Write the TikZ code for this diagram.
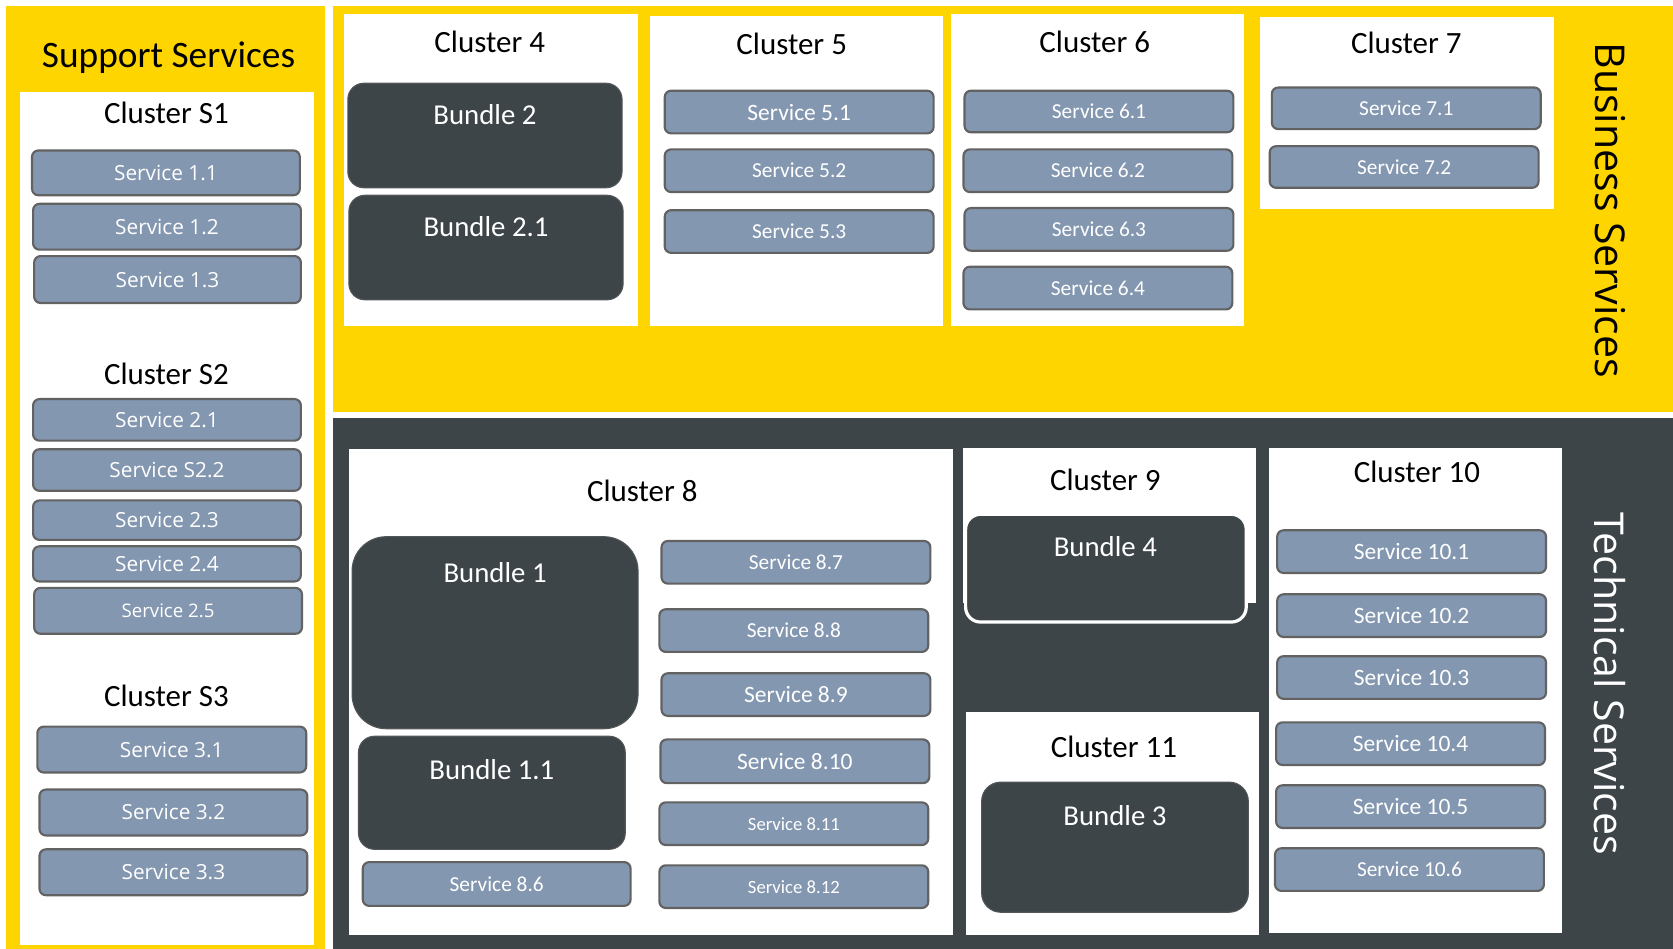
\documentclass[tikz,border=0pt]{standalone}
\usepackage{fontspec}
\setmainfont{Carlito}
\newfontfamily\widefont{Open Sans}
\definecolor{panelyellow}{RGB}{255,213,0}
\definecolor{paneldark}{RGB}{61,69,73}
\definecolor{bundlefill}{RGB}{61,69,73}
\definecolor{svcfill}{RGB}{132,151,176}
\definecolor{svcedge}{RGB}{98,98,98}
\tikzset{
  svc/.style={draw=svcedge, fill=svcfill, line width=2pt, rounded corners=6pt,
    text=white, inner sep=0pt},
  bundlebox/.style={draw=svcedge!60!bundlefill, fill=bundlefill, line width=1pt, inner sep=0pt},
  bundletext/.style={text=white, font=\fontsize{27}{30}\selectfont, inner sep=0pt},
  clustertitle/.style={text=black, font=\fontsize{29}{32}\selectfont, inner sep=0pt},
  whitepanel/.style={fill=white, draw=none},
}
% service box: name, x1, y1, x2, y2, font, text
\newcommand\svcbox[7]{%
  \node[svc, font=#6, minimum width={(#4-#2)*1pt}, minimum height={(#5-#3)*1pt}]
    (#1) at ({(#2+#4)/2},{(#3+#5)/2}) {#7};}
% bundle box: name, x1, y1, x2, y2, corner radius, label y, text
\newcommand\bundle[8]{%
  \node[bundlebox, rounded corners=#6, minimum width={(#4-#2)*1pt}, minimum height={(#5-#3)*1pt}]
    (#1) at ({(#2+#4)/2},{(#3+#5)/2}) {};
  \node[bundletext] (#1-label) at ({(#2+#4)/2},#7) {#8};}
\newcommand\fa{\fontsize{22}{24}\selectfont}
\newcommand\fb{\fontsize{20}{22}\selectfont}
\newcommand\fc{\fontsize{17.5}{19}\selectfont}
\newcommand\fw{\widefont\fontsize{19.5}{22}\selectfont}
\newcommand\fwb{\widefont\fontsize{17.5}{20}\selectfont}
\begin{document}
\begin{tikzpicture}[x=1pt,y=-1pt]
\useasboundingbox[fill=white] (0,0) rectangle (1568,889);

% ---- three coloured areas
\fill[panelyellow] (6,6) rectangle (305,889);
\fill[panelyellow] (312,6) rectangle (1568,386);
\fill[paneldark] (312,392) rectangle (1568,889);

% ---- support services
\node[font=\fontsize{35}{37}\selectfont, anchor=base, inner sep=0pt] (support) at (158,63) {Support Services};
\fill[whitepanel] (19,86) rectangle (294,886);

\node[clustertitle] (cs1) at (156,106) {Cluster S1};
\svcbox{s11}{30}{141}{281}{183}{\fw}{Service 1.1}
\svcbox{s12}{31}{191}{282}{234}{\fw}{Service 1.2}
\svcbox{s13}{32}{240}{282}{284}{\fw}{Service 1.3}

\node[clustertitle] (cs2) at (156,350) {Cluster S2};
\svcbox{s21}{31}{374}{282}{413}{\fw}{Service 2.1}
\svcbox{s22}{31}{421}{282}{460}{\fw}{Service S2.2}
\svcbox{s23}{31}{469}{282}{506}{\fw}{Service 2.3}
\svcbox{s24}{31}{512}{282}{545}{\fw}{Service 2.4}
\svcbox{s25}{32}{551}{283}{594}{\fwb}{Service 2.5}

\node[clustertitle] (cs3) at (156,652) {Cluster S3};
\svcbox{s31}{35}{681}{287}{724}{\fw}{Service 3.1}
\svcbox{s32}{37}{740}{288}{783}{\fw}{Service 3.2}
\svcbox{s33}{37}{796}{288}{839}{\fw}{Service 3.3}

% ---- business services
\node[rotate=-90, font=\widefont\fontsize{38.5}{40}\selectfont, inner sep=0pt] (business) at (1509,197) {Business Services};

\fill[whitepanel] (322,13) rectangle (598,306);
\node[clustertitle] (c4) at (459,39) {Cluster 4};
\bundle{b2}{326}{78}{583}{176}{15pt}{107}{Bundle 2}
\bundle{b21}{327}{183}{584}{281}{15pt}{212}{Bundle 2.1}

\fill[whitepanel] (609,15) rectangle (884,306);
\node[clustertitle] (c5) at (742,41) {Cluster 5};
\svcbox{s51}{623}{85}{875}{125}{\fa}{Service 5.1}
\svcbox{s52}{623}{140}{875}{180}{\fb}{Service 5.2}
\svcbox{s53}{623}{197}{875}{237}{\fb}{Service 5.3}

\fill[whitepanel] (891,13) rectangle (1166,306);
\node[clustertitle] (c6) at (1026,39) {Cluster 6};
\svcbox{s61}{904}{85}{1156}{124}{\fb}{Service 6.1}
\svcbox{s62}{903}{140}{1155}{180}{\fb}{Service 6.2}
\svcbox{s63}{904}{195}{1156}{235}{\fb}{Service 6.3}
\svcbox{s64}{903}{250}{1155}{290}{\fb}{Service 6.4}

\fill[whitepanel] (1181,16) rectangle (1456,196);
\node[clustertitle] (c7) at (1318,40) {Cluster 7};
\svcbox{s71}{1192}{82}{1444}{121}{\fb}{Service 7.1}
\svcbox{s72}{1190}{137}{1442}{176}{\fb}{Service 7.2}

% ---- technical services
\node[rotate=-90, text=white, font=\widefont\fontsize{38.5}{40}\selectfont, inner sep=0pt] (technical) at (1509,641) {Technical Services};

\fill[whitepanel] (327,421) rectangle (893,876);
\node[clustertitle] (c8) at (602,460) {Cluster 8};
\bundle{b1}{330}{503}{598}{683}{32pt}{537}{Bundle 1}
\bundle{b11}{336}{690}{586}{796}{15pt}{721}{Bundle 1.1}
\svcbox{s86}{340}{808}{591}{849}{\fb}{Service 8.6}
\svcbox{s87}{620}{507}{872}{547}{\fb}{Service 8.7}
\svcbox{s88}{618}{571}{870}{611}{\fb}{Service 8.8}
\svcbox{s89}{620}{631}{872}{671}{\fa}{Service 8.9}
\svcbox{s810}{619}{693}{871}{734}{\fa}{Service 8.10}
\svcbox{s811}{618}{752}{870}{792}{\fc}{Service 8.11}
\svcbox{s812}{618}{811}{870}{851}{\fc}{Service 8.12}

\fill[whitepanel] (903,420) rectangle (1177,565);
\node[clustertitle] (c9) at (1036,450) {Cluster 9};
\node[fill=bundlefill, draw=white, line width=3pt, rounded corners=14pt, inner sep=0pt,
  minimum width=263pt, minimum height=101pt] (b4) at (1036.5,532.5) {};
\node[bundletext] (b4-label) at (1036,512) {Bundle 4};

\fill[whitepanel] (905,667) rectangle (1180,876);
\node[clustertitle] (c11) at (1044,700) {Cluster 11};
\bundle{b3}{920}{733}{1170}{855}{18pt}{764}{Bundle 3}

\fill[whitepanel] (1189,420) rectangle (1464,874);
\node[clustertitle] (c10) at (1328,442) {Cluster 10};
\svcbox{s101}{1197}{497}{1449}{537}{\fa}{Service 10.1}
\svcbox{s102}{1197}{557}{1449}{597}{\fa}{Service 10.2}
\svcbox{s103}{1197}{615}{1449}{655}{\fa}{Service 10.3}
\svcbox{s104}{1196}{677}{1448}{717}{\fa}{Service 10.4}
\svcbox{s105}{1196}{736}{1448}{776}{\fa}{Service 10.5}
\svcbox{s106}{1195}{795}{1447}{835}{\fb}{Service 10.6}
\end{tikzpicture}
\end{document}
